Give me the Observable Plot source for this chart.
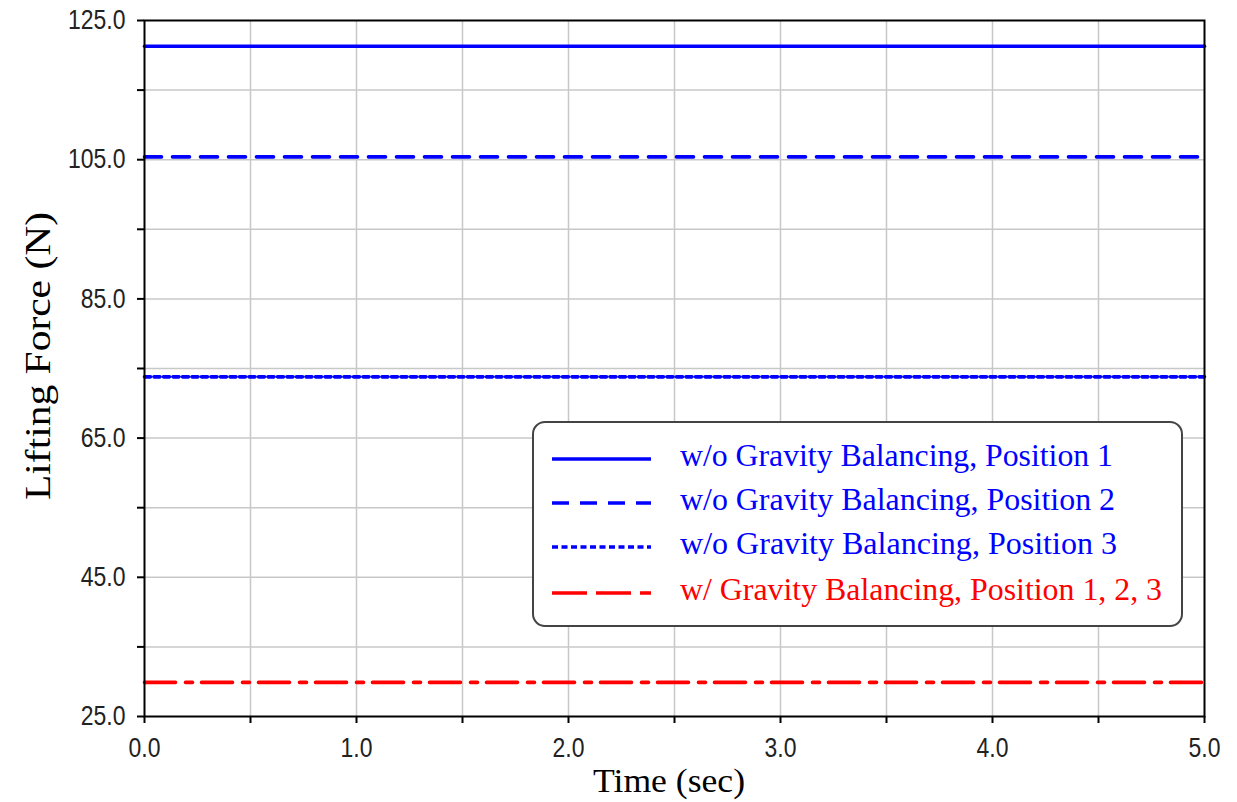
<!DOCTYPE html>
<html><head><meta charset="utf-8">
<script src="https://cdn.jsdelivr.net/npm/d3@7"></script>
<script src="https://cdn.jsdelivr.net/npm/@observablehq/plot@0.6"></script>
<style>
body{margin:0;background:#fff}
#chart{position:relative;width:1237px;height:802px}
</style>
</head><body><div id="chart"></div>
<script>
// ---- data ----
const seriesNames = [
  "w/o Gravity Balancing, Position 1",
  "w/o Gravity Balancing, Position 2",
  "w/o Gravity Balancing, Position 3",
  "w/ Gravity Balancing, Position 1, 2, 3"
];
const seriesValues = [121.3, 105.4, 73.8, 29.9];
const seriesColors = ["#0000ff", "#0000ff", "#0000ff", "#ff0000"];
const seriesDash = [null, "17,11", "6,3.5", "31,10,7,9"];
const legendDash = [null, "17,11", "6,3.5", "35,9"];
const timeValues = [0, 5];
const xTicks = [0, 1, 2, 3, 4, 5];
const xMinorTicks = [0.5, 1.5, 2.5, 3.5, 4.5];
const yTicks = [25, 45, 65, 85, 105, 125];
const yMinorTicks = [35, 55, 75, 95, 115];
const xLabel = "Time (sec)";
const yLabel = "Lifting Force (N)";

const rows = seriesNames.flatMap((name, i) => timeValues.map(t => ({name, t, v: seriesValues[i], i})));

const W = 1237, H = 802;
const tickFont = "'Liberation Sans', Arial, sans-serif";
const serif = "'Liberation Serif', 'Times New Roman', serif";

const gridX = [...xTicks, ...xMinorTicks].filter(d => d > 0 && d < 5);
const gridY = [...yTicks, ...yMinorTicks].filter(d => d > 25 && d < 125);

const lineMarks = seriesNames.map((name, i) =>
  Plot.line(rows.filter(r => r.i === i), {
    x: "t", y: "v", stroke: seriesColors[i], strokeWidth: 3.6,
    strokeDasharray: seriesDash[i] || undefined
  })
);

const plot = Plot.plot({
  width: W, height: H,
  marginLeft: 144, marginRight: 33, marginTop: 20, marginBottom: 86,
  style: {fontFamily: tickFont, fontSize: "27px", color: "#222", background: "#fff"},
  x: {domain: [0, 5], label: null},
  y: {domain: [25, 125], label: null},
  marks: [
    Plot.ruleX(gridX, {stroke: "#c8c8c8", strokeWidth: 1.5}),
    Plot.ruleY(gridY, {stroke: "#c8c8c8", strokeWidth: 1.5}),
    ...lineMarks,
    Plot.axisX(xTicks, {tickFormat: d => d.toFixed(1), tickSize: 7, tickPadding: 14, stroke: "#000", strokeWidth: 2, fontSize: 27, label: null}),
    Plot.axisX(xMinorTicks, {tickFormat: () => "", tickSize: 7, stroke: "#000", strokeWidth: 2, label: null}),
    Plot.axisY(yTicks, {tickFormat: d => d.toFixed(1), tickSize: 7, tickPadding: 12, stroke: "#000", strokeWidth: 2, fontSize: 27, label: null}),
    Plot.axisY(yMinorTicks, {tickFormat: () => "", tickSize: 7, stroke: "#000", strokeWidth: 2, label: null}),
    Plot.frame({stroke: "#000", strokeWidth: 2})
  ]
});

document.getElementById("chart").appendChild(plot);

const svg = d3.select(plot);

// condense tick labels (narrow sans look)
svg.selectAll("text").each(function () {
  const t = this;
  if (!t.textContent) return;
  const len = t.getComputedTextLength();
  if (len > 0) {
    t.setAttribute("textLength", (len * 0.85).toFixed(1));
    t.setAttribute("lengthAdjust", "spacingAndGlyphs");
  }
});

// ---- titles and legend ----
svg.append("text")
  .attr("x", 669).attr("y", 792)
  .attr("text-anchor", "middle")
  .attr("font-family", serif).attr("font-size", 34).attr("fill", "#000")
  .attr("textLength", 152).attr("lengthAdjust", "spacingAndGlyphs")
  .text(xLabel);
svg.append("text")
  .attr("transform", "translate(50,356) rotate(-90)")
  .attr("text-anchor", "middle")
  .attr("font-family", serif).attr("font-size", 36).attr("fill", "#000")
  .attr("textLength", 288).attr("lengthAdjust", "spacingAndGlyphs")
  .text(yLabel);

const lg = svg.append("g");
lg.append("rect")
  .attr("x", 533).attr("y", 422).attr("width", 649).attr("height", 204)
  .attr("rx", 12).attr("ry", 12)
  .attr("fill", "#fff").attr("stroke", "#444").attr("stroke-width", 2);
const rowY = [459, 503, 547, 593];
const textLen = [433, 435, 437, 482];
seriesNames.forEach((name, i) => {
  lg.append("line")
    .attr("x1", 552).attr("x2", 651).attr("y1", rowY[i]).attr("y2", rowY[i])
    .attr("stroke", seriesColors[i]).attr("stroke-width", 3.6)
    .attr("stroke-dasharray", legendDash[i]);
  lg.append("text")
    .attr("x", 680).attr("y", rowY[i] + 7)
    .attr("text-anchor", "start")
    .attr("font-family", serif).attr("font-size", 32).attr("fill", seriesColors[i])
    .attr("textLength", textLen[i]).attr("lengthAdjust", "spacingAndGlyphs")
    .text(name);
});
</script>
</body></html>
